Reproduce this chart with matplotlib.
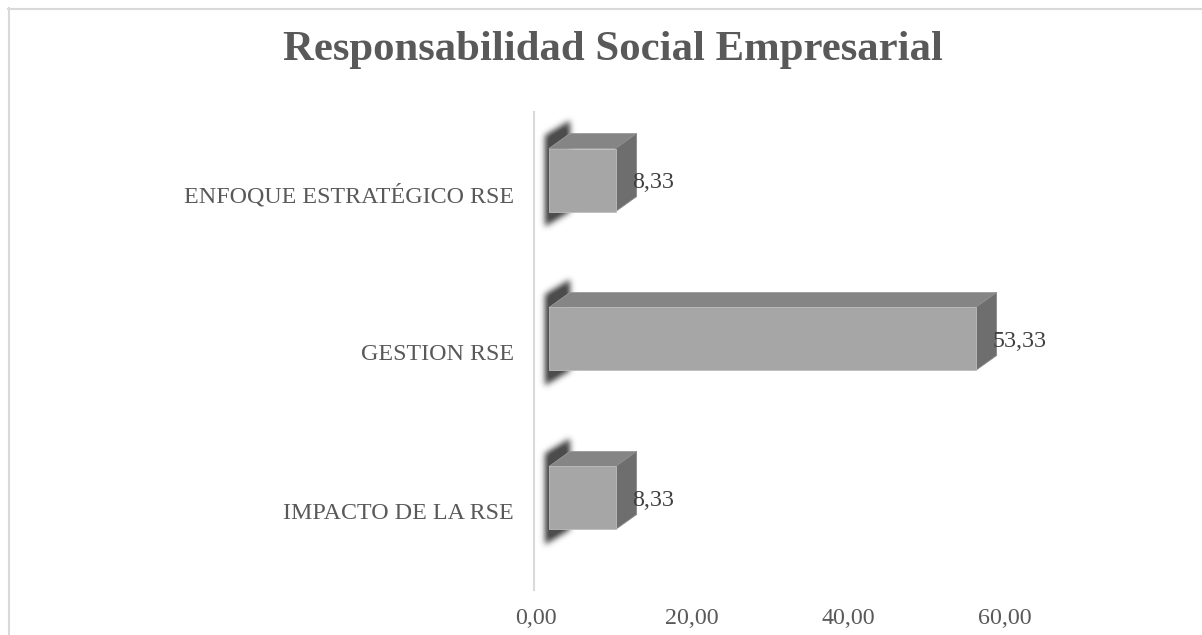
import numpy as np
import matplotlib
matplotlib.use("Agg")
import matplotlib.pyplot as plt
from matplotlib.patches import Polygon
from matplotlib.path import Path
from matplotlib.lines import Line2D
import matplotlib.transforms as mtransforms

# ---- data -------------------------------------------------------------
categories = ["IMPACTO DE LA RSE", "GESTION RSE", "ENFOQUE ESTRATÉGICO RSE"]
values = [8.33, 53.33, 8.33]
value_labels = ["8,33", "53,33", "8,33"]
xticks = [0, 20, 40, 60]
xtick_labels = ["0,00", "20,00", "40,00", "60,00"]
title = "Responsabilidad Social Empresarial"

# ---- figure / axes geometry (pixels) ---------------------------------
W, H, DPI = 1202, 635, 100
SERIF = "Liberation Serif"
TEXT_GREY = "#595959"

fig = plt.figure(figsize=(W / DPI, H / DPI), dpi=DPI)
fig.patch.set_facecolor("white")

ax_left, ax_right, ax_top, ax_bottom = 534, 1122, 112, 590
ax = fig.add_axes([ax_left / W, 1 - ax_bottom / H,
                   (ax_right - ax_left) / W, (ax_bottom - ax_top) / H])
xlim = (-0.25, 75.0)
ylim = (-0.579, 2.428)

ux = (ax_right - ax_left) / (xlim[1] - xlim[0])   # px per x unit
uy = (ax_bottom - ax_top) / (ylim[1] - ylim[0])   # px per y unit

# 3-D look: front plane offset/scale and depth of the boxes
front_x0 = 13 / ux          # front face starts a little right of the wall
front_scale = 8.0 / ux      # front-plane length per value unit
half_h = 31.5 / uy
dx, dy = 21 / ux, 15 / uy

FRONT, TOP, SIDE = "#a6a6a6", "#858585", "#6e6e6e"

# ---- soft wall shadow behind each box ---------------------------------
nx, ny = ax_right - ax_left, ax_bottom - ax_top
xs = xlim[0] + (np.arange(nx) + 0.5) / ux
ys = ylim[0] + (np.arange(ny) + 0.5) / uy
gx, gy = np.meshgrid(xs, ys)
pts = np.column_stack([gx.ravel(), gy.ravel()])
mask = np.zeros(gx.shape)

for i, v in enumerate(values):
    yb, yt = i - half_h, i + half_h
    sx0 = front_x0 - 4 / ux
    shadow = [(sx0, yb - 15 / uy), (sx0, yt + 13 / uy),
              (sx0 + dx + 4 / ux, yt + 13 / uy + dy),
              (sx0 + dx + 4 / ux, yb - 15 / uy + dy)]
    mask = np.maximum(mask, Path(shadow).contains_points(pts).reshape(gx.shape))

sigma = 3.0
k = np.arange(-10, 11)
kern = np.exp(-0.5 * (k / sigma) ** 2)
kern /= kern.sum()
blur = np.apply_along_axis(lambda r: np.convolve(r, kern, mode="same"), 1, mask)
blur = np.apply_along_axis(lambda c: np.convolve(c, kern, mode="same"), 0, blur)

rgba = np.zeros(blur.shape + (4,))
rgba[..., :3] = 0.22
rgba[..., 3] = np.clip(blur * 1.1, 0, 1) * 0.9
ax.imshow(rgba, extent=(xlim[0], xlim[1], ylim[0], ylim[1]), origin="lower",
          aspect="auto", interpolation="bilinear", zorder=1)

# ---- boxes -------------------------------------------------------------
for i, (v, lab) in enumerate(zip(values, value_labels)):
    x0 = front_x0
    x1 = front_x0 + front_scale * v
    yb, yt = i - half_h, i + half_h
    top = [(x0, yt), (x1, yt), (x1 + dx, yt + dy), (x0 + dx, yt + dy)]
    side = [(x1, yb), (x1 + dx, yb + dy), (x1 + dx, yt + dy), (x1, yt)]
    front = [(x0, yb), (x1, yb), (x1, yt), (x0, yt)]
    ax.add_patch(Polygon(top, closed=True, facecolor=TOP, edgecolor="#9a9a9a",
                         linewidth=0.6, zorder=3))
    ax.add_patch(Polygon(side, closed=True, facecolor=SIDE, edgecolor="#8a8a8a",
                         linewidth=0.6, zorder=3))
    ax.add_patch(Polygon(front, closed=True, facecolor=FRONT, edgecolor="#bdbdbd",
                         linewidth=0.6, zorder=4))
    ax.annotate(lab, xy=(x1, i), xytext=(17 * 72 / DPI, 0),
                textcoords="offset points", ha="left", va="center_baseline",
                fontsize=17.3, family=SERIF, color="#404040", zorder=5)

# ---- axes styling ------------------------------------------------------
ax.set_xlim(*xlim)
ax.set_ylim(*ylim)
ax.set_facecolor("none")
for s in ("top", "right", "bottom"):
    ax.spines[s].set_visible(False)
ax.spines["left"].set_color("#d9d9d9")
ax.spines["left"].set_linewidth(1.5)

ax.set_xticks(xticks)
ax.set_xticklabels(xtick_labels)
ax.set_yticks(range(len(categories)))
ax.set_yticklabels(categories)
ax.tick_params(axis="both", length=0, labelsize=17.3, labelcolor=TEXT_GREY)
ax.tick_params(axis="x", pad=13)
ax.tick_params(axis="y", pad=14.5)
for t in ax.get_xticklabels() + ax.get_yticklabels():
    t.set_family(SERIF)
shift = mtransforms.ScaledTranslation(0, -13 / DPI, fig.dpi_scale_trans)
for t in ax.get_yticklabels():
    t.set_transform(t.get_transform() + shift)

# ---- title and chart frame --------------------------------------------
fig.text(613 / W, 1 - 50 / H, title, ha="center", va="center",
         fontsize=30.8, weight="bold", family=SERIF, color=TEXT_GREY)

fig.add_artist(Line2D([8 / W, 1], [1 - 8.5 / H] * 2, transform=fig.transFigure,
                      color="#d9d9d9", linewidth=1.5))
fig.add_artist(Line2D([8.5 / W] * 2, [0, 1 - 8 / H], transform=fig.transFigure,
                      color="#d9d9d9", linewidth=1.5))

fig.savefig("out.png", dpi=DPI, facecolor="white")
